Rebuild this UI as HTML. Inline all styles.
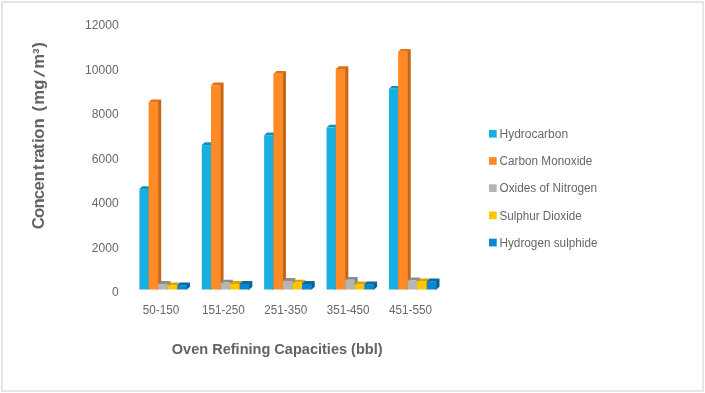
<!DOCTYPE html>
<html lang="en">
<head>
<meta charset="utf-8">
<title>Oven Refining Capacities chart</title>
<style>
html,body{margin:0;padding:0;background:#fff;}
body{width:705px;height:393px;overflow:hidden;}
svg{display:block;}
svg text{font-family:"Liberation Sans",sans-serif;}
.lbl text{font-size:12px;fill:#676767;}
.ttl{font-size:15px;font-weight:bold;fill:#636363;}
</style>
</head>
<body>
<svg width="705" height="393" viewBox="0 0 705 393">
<rect x="0" y="0" width="705" height="393" fill="#ffffff"/>
<rect x="2" y="2" width="701.2" height="389" fill="none" stroke="#e3e3e3" stroke-width="1.8"/>
<g class="bars">
<polygon fill="#127EA4" points="147.60,189.10 151.60,186.30 151.60,286.70 148.60,289.50 147.60,289.50"/>
<polygon fill="#1490BA" points="139.40,189.10 142.40,186.30 151.60,186.30 148.60,189.10"/>
<rect fill="#18AEDF" x="139.40" y="189.10" width="9.25" height="100.40"/>
<polygon fill="#C4651A" points="157.20,102.20 161.20,99.40 161.20,286.70 158.20,289.50 157.20,289.50"/>
<polygon fill="#E0701A" points="148.60,102.20 151.60,99.40 161.20,99.40 158.20,102.20"/>
<rect fill="#FF8A26" x="148.60" y="102.20" width="9.65" height="187.30"/>
<polygon fill="#838383" points="166.55,283.90 170.55,281.10 170.55,286.70 167.55,289.50 166.55,289.50"/>
<polygon fill="#8C8C8C" points="158.20,283.90 161.20,281.10 170.55,281.10 167.55,283.90"/>
<rect fill="#B5B5B5" x="158.20" y="283.90" width="9.40" height="5.60"/>
<polygon fill="#C08E00" points="176.30,285.20 180.30,282.40 180.30,286.70 177.30,289.50 176.30,289.50"/>
<polygon fill="#DCA300" points="167.55,285.20 170.55,282.40 180.30,282.40 177.30,285.20"/>
<rect fill="#FFC600" x="167.55" y="285.20" width="9.80" height="4.30"/>
<polygon fill="#065E94" points="185.95,285.20 189.95,282.40 189.95,286.70 186.95,289.50 185.95,289.50"/>
<polygon fill="#0769A5" points="177.30,285.20 180.30,282.40 189.95,282.40 186.95,285.20"/>
<rect fill="#0887D1" x="177.30" y="285.20" width="9.70" height="4.30"/>
<polygon fill="#127EA4" points="209.98,145.10 213.98,142.30 213.98,286.70 210.98,289.50 209.98,289.50"/>
<polygon fill="#1490BA" points="201.78,145.10 204.78,142.30 213.98,142.30 210.98,145.10"/>
<rect fill="#18AEDF" x="201.78" y="145.10" width="9.25" height="144.40"/>
<polygon fill="#C4651A" points="219.58,85.30 223.58,82.50 223.58,286.70 220.58,289.50 219.58,289.50"/>
<polygon fill="#E0701A" points="210.98,85.30 213.98,82.50 223.58,82.50 220.58,85.30"/>
<rect fill="#FF8A26" x="210.98" y="85.30" width="9.65" height="204.20"/>
<polygon fill="#838383" points="228.93,282.60 232.93,279.80 232.93,286.70 229.93,289.50 228.93,289.50"/>
<polygon fill="#8C8C8C" points="220.58,282.60 223.58,279.80 232.93,279.80 229.93,282.60"/>
<rect fill="#B5B5B5" x="220.58" y="282.60" width="9.40" height="6.90"/>
<polygon fill="#C08E00" points="238.68,283.90 242.68,281.10 242.68,286.70 239.68,289.50 238.68,289.50"/>
<polygon fill="#DCA300" points="229.93,283.90 232.93,281.10 242.68,281.10 239.68,283.90"/>
<rect fill="#FFC600" x="229.93" y="283.90" width="9.80" height="5.60"/>
<polygon fill="#065E94" points="248.33,283.90 252.33,281.10 252.33,286.70 249.33,289.50 248.33,289.50"/>
<polygon fill="#0769A5" points="239.68,283.90 242.68,281.10 252.33,281.10 249.33,283.90"/>
<rect fill="#0887D1" x="239.68" y="283.90" width="9.70" height="5.60"/>
<polygon fill="#127EA4" points="272.36,135.20 276.36,132.40 276.36,286.70 273.36,289.50 272.36,289.50"/>
<polygon fill="#1490BA" points="264.16,135.20 267.16,132.40 276.36,132.40 273.36,135.20"/>
<rect fill="#18AEDF" x="264.16" y="135.20" width="9.25" height="154.30"/>
<polygon fill="#C4651A" points="281.96,73.80 285.96,71.00 285.96,286.70 282.96,289.50 281.96,289.50"/>
<polygon fill="#E0701A" points="273.36,73.80 276.36,71.00 285.96,71.00 282.96,73.80"/>
<rect fill="#FF8A26" x="273.36" y="73.80" width="9.65" height="215.70"/>
<polygon fill="#838383" points="291.31,280.90 295.31,278.10 295.31,286.70 292.31,289.50 291.31,289.50"/>
<polygon fill="#8C8C8C" points="282.96,280.90 285.96,278.10 295.31,278.10 292.31,280.90"/>
<rect fill="#B5B5B5" x="282.96" y="280.90" width="9.40" height="8.60"/>
<polygon fill="#C08E00" points="301.06,282.60 305.06,279.80 305.06,286.70 302.06,289.50 301.06,289.50"/>
<polygon fill="#DCA300" points="292.31,282.60 295.31,279.80 305.06,279.80 302.06,282.60"/>
<rect fill="#FFC600" x="292.31" y="282.60" width="9.80" height="6.90"/>
<polygon fill="#065E94" points="310.71,283.90 314.71,281.10 314.71,286.70 311.71,289.50 310.71,289.50"/>
<polygon fill="#0769A5" points="302.06,283.90 305.06,281.10 314.71,281.10 311.71,283.90"/>
<rect fill="#0887D1" x="302.06" y="283.90" width="9.70" height="5.60"/>
<polygon fill="#127EA4" points="334.74,127.60 338.74,124.80 338.74,286.70 335.74,289.50 334.74,289.50"/>
<polygon fill="#1490BA" points="326.54,127.60 329.54,124.80 338.74,124.80 335.74,127.60"/>
<rect fill="#18AEDF" x="326.54" y="127.60" width="9.25" height="161.90"/>
<polygon fill="#C4651A" points="344.34,69.00 348.34,66.20 348.34,286.70 345.34,289.50 344.34,289.50"/>
<polygon fill="#E0701A" points="335.74,69.00 338.74,66.20 348.34,66.20 345.34,69.00"/>
<rect fill="#FF8A26" x="335.74" y="69.00" width="9.65" height="220.50"/>
<polygon fill="#838383" points="353.69,279.80 357.69,277.00 357.69,286.70 354.69,289.50 353.69,289.50"/>
<polygon fill="#8C8C8C" points="345.34,279.80 348.34,277.00 357.69,277.00 354.69,279.80"/>
<rect fill="#B5B5B5" x="345.34" y="279.80" width="9.40" height="9.70"/>
<polygon fill="#C08E00" points="363.44,284.40 367.44,281.60 367.44,286.70 364.44,289.50 363.44,289.50"/>
<polygon fill="#DCA300" points="354.69,284.40 357.69,281.60 367.44,281.60 364.44,284.40"/>
<rect fill="#FFC600" x="354.69" y="284.40" width="9.80" height="5.10"/>
<polygon fill="#065E94" points="373.09,284.20 377.09,281.40 377.09,286.70 374.09,289.50 373.09,289.50"/>
<polygon fill="#0769A5" points="364.44,284.20 367.44,281.40 377.09,281.40 374.09,284.20"/>
<rect fill="#0887D1" x="364.44" y="284.20" width="9.70" height="5.30"/>
<polygon fill="#127EA4" points="397.12,88.80 401.12,86.00 401.12,286.70 398.12,289.50 397.12,289.50"/>
<polygon fill="#1490BA" points="388.92,88.80 391.92,86.00 401.12,86.00 398.12,88.80"/>
<rect fill="#18AEDF" x="388.92" y="88.80" width="9.25" height="200.70"/>
<polygon fill="#C4651A" points="406.72,51.80 410.72,49.00 410.72,286.70 407.72,289.50 406.72,289.50"/>
<polygon fill="#E0701A" points="398.12,51.80 401.12,49.00 410.72,49.00 407.72,51.80"/>
<rect fill="#FF8A26" x="398.12" y="51.80" width="9.65" height="237.70"/>
<polygon fill="#838383" points="416.07,280.30 420.07,277.50 420.07,286.70 417.07,289.50 416.07,289.50"/>
<polygon fill="#8C8C8C" points="407.72,280.30 410.72,277.50 420.07,277.50 417.07,280.30"/>
<rect fill="#B5B5B5" x="407.72" y="280.30" width="9.40" height="9.20"/>
<polygon fill="#C08E00" points="425.82,281.40 429.82,278.60 429.82,286.70 426.82,289.50 425.82,289.50"/>
<polygon fill="#DCA300" points="417.07,281.40 420.07,278.60 429.82,278.60 426.82,281.40"/>
<rect fill="#FFC600" x="417.07" y="281.40" width="9.80" height="8.10"/>
<polygon fill="#065E94" points="435.47,281.40 439.47,278.60 439.47,286.70 436.47,289.50 435.47,289.50"/>
<polygon fill="#0769A5" points="426.82,281.40 429.82,278.60 439.47,278.60 436.47,281.40"/>
<rect fill="#0887D1" x="426.82" y="281.40" width="9.70" height="8.10"/>
</g>
<defs><filter id="soft" x="-5%" y="-5%" width="110%" height="110%"><feGaussianBlur stdDeviation="0.35"/></filter></defs>
<g class="lbl" filter="url(#soft)">
<text x="85.10" y="29.10" textLength="33.50" lengthAdjust="spacingAndGlyphs">12000</text>
<text x="85.10" y="73.65" textLength="33.50" lengthAdjust="spacingAndGlyphs">10000</text>
<text x="91.80" y="118.20" textLength="26.80" lengthAdjust="spacingAndGlyphs">8000</text>
<text x="91.80" y="162.75" textLength="26.80" lengthAdjust="spacingAndGlyphs">6000</text>
<text x="91.80" y="207.30" textLength="26.80" lengthAdjust="spacingAndGlyphs">4000</text>
<text x="91.80" y="251.85" textLength="26.80" lengthAdjust="spacingAndGlyphs">2000</text>
<text x="111.90" y="296.40" textLength="6.70" lengthAdjust="spacingAndGlyphs">0</text>
<text x="142.80" y="314.1" textLength="36.40" lengthAdjust="spacingAndGlyphs">50-150</text>
<text x="201.93" y="314.1" textLength="42.90" lengthAdjust="spacingAndGlyphs">151-250</text>
<text x="264.31" y="314.1" textLength="42.90" lengthAdjust="spacingAndGlyphs">251-350</text>
<text x="326.69" y="314.1" textLength="42.90" lengthAdjust="spacingAndGlyphs">351-450</text>
<text x="389.07" y="314.1" textLength="42.90" lengthAdjust="spacingAndGlyphs">451-550</text>
<rect x="489" y="129.90" width="7.7" height="7.7" fill="#18AEDF"/>
<text x="499.5" y="137.90" textLength="68.6" lengthAdjust="spacingAndGlyphs">Hydrocarbon</text>
<rect x="489" y="157.10" width="7.7" height="7.7" fill="#FF8A26"/>
<text x="499.5" y="165.10" textLength="92.9" lengthAdjust="spacingAndGlyphs">Carbon Monoxide</text>
<rect x="489" y="184.30" width="7.7" height="7.7" fill="#B5B5B5"/>
<text x="499.5" y="192.30" textLength="97.6" lengthAdjust="spacingAndGlyphs">Oxides of Nitrogen</text>
<rect x="489" y="211.50" width="7.7" height="7.7" fill="#FFC600"/>
<text x="499.5" y="219.50" textLength="82.2" lengthAdjust="spacingAndGlyphs">Sulphur Dioxide</text>
<rect x="489" y="238.70" width="7.7" height="7.7" fill="#0887D1"/>
<text x="499.5" y="246.70" textLength="98.0" lengthAdjust="spacingAndGlyphs">Hydrogen sulphide</text>
</g>
<text class="ttl" x="171.8" y="353.7" textLength="210.8" lengthAdjust="spacingAndGlyphs">Oven Refining Capacities (bbl)</text>
<text class="ttl" style="font-size:15.6px" transform="rotate(-90) scale(1.07,1)" text-anchor="middle" y="44" x="-208.60 -198.97 -190.05 -181.78 -173.60 -164.81 -156.21 -149.53 -143.13 -136.68 -131.54 -124.95 -115.33 -107.94 -101.59 -91.03 -79.21 -70.09 -57.38 -47.90 -42.15" rotate="0 0 0 0 0 0 0 0 0 0 0 0 0 0 0 0 0 14 0 0 0">Concentration (mg/m³)</text>
</svg>
</body>
</html>
